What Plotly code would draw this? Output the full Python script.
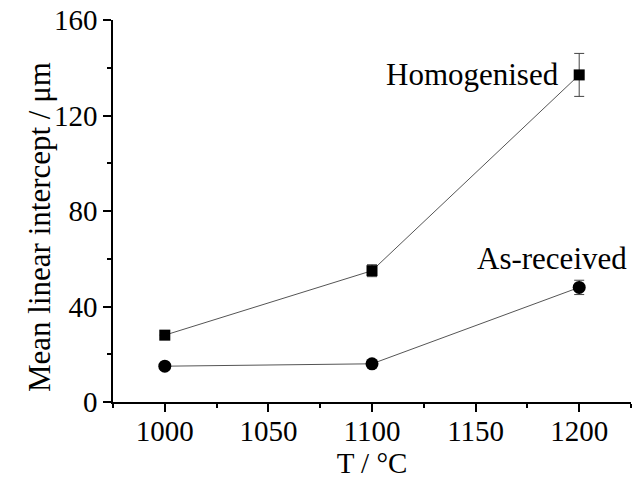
import plotly.graph_objects as go

temps = [1000, 1100, 1200]
homogenised = [28, 55, 137]
homogenised_err = [0, 2.5, 9]
as_received = [15, 16, 48]
as_received_err = [0, 0, 3]
x_ticks = [1000, 1050, 1100, 1150, 1200]
y_ticks = [0, 40, 80, 120, 160]

font = "Liberation Serif"

fig = go.Figure()
fig.add_trace(go.Scatter(
    x=temps, y=homogenised, mode="lines+markers",
    line=dict(color="#555555", width=1),
    marker=dict(symbol="square", size=11, color="black"),
    error_y=dict(type="data", array=homogenised_err, visible=True,
                 color="#444444", thickness=1, width=5),
    showlegend=False,
))
fig.add_trace(go.Scatter(
    x=temps, y=as_received, mode="lines+markers",
    line=dict(color="#555555", width=1),
    marker=dict(symbol="circle", size=13, color="black"),
    error_y=dict(type="data", array=as_received_err, visible=True,
                 color="#444444", thickness=1, width=5),
    showlegend=False,
))

fig.add_annotation(x=1191, y=137, text="Homogenised", showarrow=False,
                   xanchor="right", yanchor="middle", font=dict(size=31, family=font, color="black"))
fig.add_annotation(x=1224, y=60, text="As-received", showarrow=False,
                   xanchor="right", yanchor="middle", font=dict(size=31, family=font, color="black"))
# y-axis title (placed as rotated text to match the reference offset)
fig.add_annotation(xref="paper", yref="paper", x=-0.143, y=0.458,
                   text="Mean linear intercept / μm", textangle=-90, showarrow=False,
                   xanchor="center", yanchor="middle",
                   font=dict(size=31, family=font, color="black"))

fig.update_layout(
    width=632, height=487,
    margin=dict(l=113, r=1, t=20, b=85),
    plot_bgcolor="white", paper_bgcolor="white",
    font=dict(family=font, size=29, color="black"),
)
fig.update_xaxes(
    range=[975, 1225], tickvals=x_ticks, showgrid=False, zeroline=False,
    showline=True, linecolor="black", linewidth=1.5,
    ticks="outside", ticklen=8, tickwidth=1.5, tickcolor="black",
    minor=dict(dtick=25, tick0=975, ticks="outside", ticklen=4, tickwidth=1.5, tickcolor="black"),
    title=dict(text="T / °C", font=dict(size=29, family=font), standoff=6),
    tickfont=dict(size=29, family=font),
    ticklabelstandoff=-6,
)
fig.update_yaxes(
    range=[0, 160], tickvals=y_ticks, showgrid=False, zeroline=False,
    showline=True, linecolor="black", linewidth=1.5,
    ticks="outside", ticklen=8, tickwidth=1.5, tickcolor="black",
    minor=dict(dtick=20, tick0=0, ticks="outside", ticklen=4, tickwidth=1.5, tickcolor="black"),
    tickfont=dict(size=29, family=font),
)

fig.write_html("out.html")
